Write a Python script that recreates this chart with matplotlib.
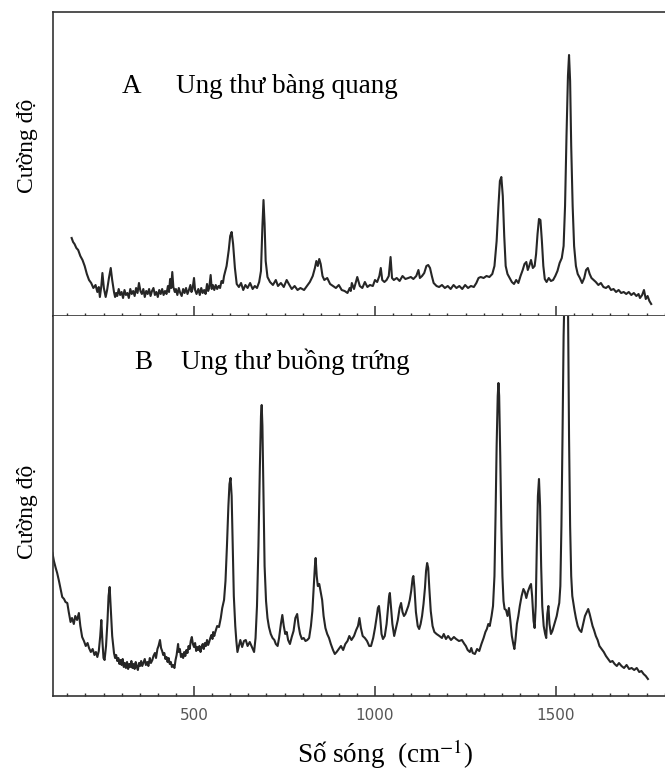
import numpy as np
import matplotlib
matplotlib.use('Agg')
import matplotlib.pyplot as plt
from matplotlib.ticker import MultipleLocator

plt.rcParams['font.family'] = ['Liberation Serif', 'DejaVu Serif']
plt.rcParams['mathtext.fontset'] = 'stix'

# Pho A - ung thu bang quang (so song cm-1, cuong do tuong doi)
wn_a = [162, 166, 170, 175, 180, 186, 192, 198, 204, 210,
        216, 222, 228, 233, 237, 240, 244, 247, 251, 256,
        260, 265, 270, 274, 279, 282, 285, 288, 292, 296,
        300, 304, 308, 312, 316, 320, 324, 328, 332, 336,
        340, 344, 348, 352, 356, 360, 364, 368, 372, 376,
        380, 384, 388, 392, 396, 400, 404, 408, 412, 416,
        420, 424, 428, 431, 434, 437, 440, 443, 447, 450,
        454, 458, 462, 466, 470, 474, 478, 482, 486, 490,
        493, 496, 500, 503, 507, 512, 516, 520, 524, 528,
        532, 536, 539, 542, 546, 549, 552, 556, 560, 564,
        568, 572, 576, 580, 583, 590, 596, 600, 604, 608,
        613, 618, 624, 630, 636, 642, 648, 655, 662, 668,
        674, 680, 685, 689, 692, 695, 698, 703, 710, 718,
        726, 732, 740, 748, 756, 762, 770, 778, 786, 794,
        804, 812, 820, 828, 834, 838, 842, 846, 850, 855,
        860, 868, 876, 884, 892, 900, 908, 916, 924, 930,
        933, 936, 942, 951, 958, 965, 972, 979, 986, 994,
        1000, 1006, 1012, 1016, 1020, 1026, 1032, 1038, 1043, 1047,
        1052, 1060, 1068, 1076, 1084, 1092, 1099, 1106, 1114, 1120,
        1124, 1130, 1136, 1142, 1147, 1152, 1157, 1162, 1170, 1177,
        1185, 1193, 1201, 1209, 1217, 1225, 1233, 1241, 1249, 1257,
        1265, 1273, 1280, 1286, 1292, 1300, 1308, 1316, 1324, 1330,
        1336, 1341, 1345, 1349, 1353, 1357, 1361, 1366, 1372, 1378,
        1384, 1390, 1396, 1402, 1408, 1413, 1418, 1422, 1426, 1431,
        1436, 1441, 1445, 1449, 1453, 1457, 1461, 1465, 1469, 1474,
        1480, 1486, 1492, 1498, 1504, 1510, 1516, 1521, 1525, 1529,
        1533, 1536, 1539, 1542, 1546, 1550, 1555, 1560, 1566, 1572,
        1578, 1583, 1588, 1593, 1598, 1604, 1610, 1617, 1624, 1631,
        1638, 1645, 1652, 1659, 1666, 1673, 1680, 1687, 1694, 1701,
        1708, 1715, 1722, 1728, 1732, 1738, 1743, 1748, 1753, 1758, 1763]
int_a = [78, 74, 72, 68, 66, 60, 56, 50, 42, 36,
         33, 28, 31, 24, 29, 19, 30, 43, 28, 19,
         26, 38, 48, 36, 24, 19, 23, 20, 27, 21,
         24, 18, 26, 21, 23, 18, 27, 22, 25, 20,
         28, 23, 33, 25, 22, 27, 19, 25, 22, 27,
         20, 25, 28, 21, 24, 19, 26, 22, 27, 21,
         25, 22, 30, 24, 37, 28, 44, 29, 24, 27,
         21, 28, 23, 20, 27, 23, 28, 22, 26, 31,
         24, 27, 38, 26, 22, 27, 21, 28, 23, 26,
         22, 32, 25, 28, 41, 27, 31, 26, 31, 27,
         30, 28, 35, 33, 40, 50, 66, 80, 84, 72,
         48, 32, 29, 33, 26, 31, 28, 33, 27, 30,
         28, 34, 45, 90, 116, 92, 55, 39, 34, 31,
         36, 30, 33, 29, 36, 32, 27, 30, 26, 28,
         26, 30, 34, 40, 48, 55, 50, 57, 52, 40,
         36, 38, 32, 30, 28, 31, 26, 25, 23, 28,
         25, 33, 27, 39, 30, 28, 34, 29, 31, 30,
         36, 34, 40, 48, 36, 34, 36, 40, 59, 38,
         36, 38, 35, 40, 37, 38, 39, 37, 40, 46,
         38, 40, 43, 50, 51, 48, 40, 33, 30, 29,
         31, 28, 30, 27, 31, 28, 30, 27, 31, 28,
         30, 29, 33, 38, 39, 38, 40, 39, 42, 50,
         75, 110, 135, 139, 120, 80, 50, 42, 38, 34,
         32, 36, 33, 40, 46, 52, 54, 46, 50, 56,
         48, 50, 62, 82, 97, 96, 75, 50, 37, 34,
         38, 35, 36, 40, 45, 53, 58, 70, 110, 180,
         240, 261, 235, 170, 110, 70, 50, 42, 38, 33,
         38, 46, 48, 42, 38, 36, 34, 31, 33, 29,
         28, 30, 26, 27, 24, 26, 23, 24, 22, 24,
         21, 23, 20, 22, 18, 21, 26, 17, 20, 15, 12]

# Pho B - ung thu buong trung
wn_b = [109, 113, 118, 122, 127, 132, 136, 141, 145, 150,
        154, 159, 163, 168, 172, 177, 182, 186, 191, 196,
        201, 206, 210, 215, 220, 225, 229, 233, 237, 241,
        244, 247, 250, 253, 257, 261, 264, 267, 270, 274,
        279, 282, 285, 288, 291, 294, 297, 300, 303, 306,
        309, 312, 315, 318, 321, 324, 327, 330, 333, 336,
        339, 342, 345, 348, 351, 354, 357, 360, 364, 367,
        371, 374, 378, 381, 385, 388, 392, 395, 399, 402,
        406, 409, 412, 415, 418, 421, 424, 427, 430, 433,
        436, 439, 442, 446, 449, 452, 456, 458, 461, 464,
        467, 470, 473, 476, 479, 482, 485, 488, 491, 494,
        497, 500, 503, 506, 509, 512, 515, 518, 521, 524,
        527, 530, 533, 536, 539, 542, 545, 548, 551, 553,
        556, 558, 564, 569, 574, 578, 583, 587, 591, 595,
        598, 601, 604, 607, 610, 614, 617, 620, 624, 628,
        633, 638, 643, 648, 654, 660, 666, 670, 674, 678,
        682, 685, 687, 689, 692, 695, 699, 703, 707, 712,
        717, 722, 726, 731, 735, 740, 744, 748, 752, 756,
        760, 765, 770, 775, 780, 785, 789, 793, 798, 803,
        808, 813, 818, 823, 827, 831, 834, 836, 839, 842,
        846, 850, 854, 858, 863, 868, 873, 878, 884, 889,
        894, 900, 906, 912, 918, 924, 929, 935, 942, 948,
        953, 957, 961, 966, 972, 978, 984, 989, 995, 1000,
        1005, 1008, 1011, 1014, 1018, 1022, 1027, 1032, 1036, 1039,
        1041, 1044, 1048, 1053, 1058, 1063, 1068, 1072, 1076, 1080,
        1084, 1088, 1092, 1096, 1100, 1104, 1106, 1109, 1113, 1118,
        1122, 1126, 1130, 1134, 1138, 1141, 1144, 1147, 1150, 1154,
        1159, 1164, 1170, 1178, 1185, 1190, 1196, 1202, 1210, 1218,
        1224, 1232, 1240, 1247, 1251, 1256, 1262, 1266, 1270, 1276,
        1282, 1288, 1294, 1300, 1305, 1309, 1313, 1317, 1322, 1326,
        1330, 1333, 1336, 1339, 1341, 1343, 1346, 1349, 1352, 1355,
        1358, 1362, 1366, 1370, 1374, 1378, 1382, 1385, 1388, 1392,
        1396, 1400, 1405, 1410, 1414, 1418, 1422, 1428, 1431, 1434,
        1438, 1441, 1444, 1447, 1450, 1453, 1456, 1459, 1462, 1466,
        1470, 1473, 1476, 1479, 1482, 1486, 1490, 1494, 1498, 1502,
        1506, 1509, 1512, 1515, 1518, 1521, 1525, 1529, 1533, 1536,
        1539, 1542, 1545, 1548, 1551, 1555, 1560, 1565, 1570, 1575,
        1580, 1585, 1589, 1593, 1597, 1601, 1605, 1610, 1615, 1620,
        1626, 1632, 1638, 1644, 1650, 1656, 1662, 1668, 1674, 1681,
        1688, 1695, 1702, 1709, 1716, 1723, 1730, 1736, 1742, 1748, 1754]
int_b = [143, 135, 128, 123, 115, 106, 99, 97, 94, 93,
         84, 74, 78, 72, 80, 76, 83, 70, 59, 55,
         50, 53, 48, 44, 47, 41, 44, 39, 45, 60,
         76, 55, 38, 36, 50, 75, 100, 109, 88, 60,
         43, 38, 41, 35, 38, 32, 36, 31, 37, 29,
         33, 28, 34, 27, 32, 29, 35, 28, 32, 27,
         34, 29, 26, 33, 30, 35, 30, 33, 37, 31,
         34, 30, 38, 33, 36, 40, 43, 38, 47, 50,
         56, 48, 45, 41, 43, 37, 39, 34, 38, 32,
         34, 29, 31, 28, 36, 41, 52, 44, 47, 39,
         42, 38, 44, 40, 46, 43, 50, 47, 55, 59,
         52, 49, 53, 45, 49, 46, 50, 44, 49, 52,
         47, 53, 50, 56, 51, 54, 58, 61, 57, 64,
         60, 63, 70, 69, 78, 88, 96, 115, 150, 190,
         212, 218, 200, 150, 100, 70, 55, 44, 50, 56,
         49, 55, 56, 50, 54, 49, 44, 58, 90, 150,
         230, 280, 291, 270, 200, 130, 95, 78, 69, 62,
         58, 56, 52, 50, 58, 72, 81, 70, 62, 64,
         56, 52, 59, 65, 78, 82, 70, 62, 57, 58,
         55, 56, 58, 70, 85, 110, 130, 138, 120, 110,
         112, 104, 96, 80, 68, 62, 58, 52, 46, 42,
         44, 47, 50, 46, 52, 55, 60, 56, 60, 66,
         70, 78, 68, 60, 58, 55, 50, 50, 58, 68,
         80, 88, 90, 80, 62, 57, 60, 72, 88, 100,
         103, 90, 72, 60, 68, 76, 88, 93, 84, 80,
         82, 86, 90, 96, 105, 118, 120, 108, 84, 70,
         67, 72, 80, 92, 108, 125, 133, 128, 108, 85,
         70, 64, 62, 60, 58, 62, 57, 60, 56, 59,
         57, 55, 56, 52, 50, 46, 44, 48, 43, 42,
         47, 45, 52, 58, 64, 67, 72, 70, 80, 90,
         120, 180, 250, 300, 313, 300, 240, 170, 120, 95,
         87, 86, 80, 88, 75, 60, 52, 47, 56, 72,
         80, 90, 100, 107, 104, 98, 104, 110, 112, 100,
         75, 68, 90, 150, 200, 217, 190, 130, 90, 70,
         62, 58, 82, 90, 72, 62, 65, 70, 75, 80,
         88, 93, 110, 170, 260, 360, 430, 430, 400, 260,
         170, 120, 100, 93, 86, 78, 70, 66, 64, 72,
         80, 84, 87, 82, 76, 70, 66, 60, 56, 50,
         47, 44, 40, 37, 34, 35, 32, 30, 33, 30,
         28, 31, 27, 28, 26, 28, 24, 25, 22, 20, 17]

tick_major = [500, 1000, 1500]
tick_labels = ['500', '1000', '1500']

W, H = 665, 770


def px(x, y):
    return x / W, 1 - y / H


fig = plt.figure(figsize=(6.65, 7.70), dpi=100)
ax1 = fig.add_axes([53 / W, 1 - 316 / H, (W - 53) / W, (316 - 12) / H])
ax2 = fig.add_axes([53 / W, 1 - 696 / H, (W - 53) / W, (696 - 316) / H])

line_col = '#262626'
xmin = 500 - (194 - 53) / 0.362
xmax = 500 + (W - 194) / 0.362

for ax, wn, val, ytop in [(ax1, wn_a, int_a, 304), (ax2, wn_b, int_b, 380)]:
    ax.plot(wn, val, color=line_col, lw=1.5)
    ax.set_xlim(xmin, xmax)
    ax.set_ylim(0, ytop)
    ax.set_yticks([])
    ax.set_xticks(tick_major)
    ax.xaxis.set_minor_locator(MultipleLocator(50))
    ax.tick_params(axis='x', which='major', direction='in', length=7, width=1.1, color='#333333')
    ax.tick_params(axis='x', which='minor', direction='in', length=2.5, width=1.0, color='#333333')
    ax.spines['right'].set_visible(False)
    for s in ['left', 'bottom', 'top']:
        ax.spines[s].set_color('#333333')
        ax.spines[s].set_linewidth(1.2)

ax1.set_xticklabels([])
ax2.spines['top'].set_visible(False)
ax2.set_xticklabels(tick_labels, family='DejaVu Sans', fontsize=11, color='#555555')
ax2.tick_params(axis='x', which='major', pad=9)

# nhan truc va tieu de
fig.text(*px(27, 146), 'Cường độ', rotation=90, ha='center', va='center', fontsize=17)
fig.text(*px(27, 512), 'Cường độ', rotation=90, ha='center', va='center', fontsize=17)
fig.text(*px(122, 93), 'A', ha='left', va='baseline', fontsize=19.5)
fig.text(*px(176, 93), 'Ung thư bàng quang', ha='left', va='baseline', fontsize=19.5)
fig.text(*px(134, 369), 'B', ha='left', va='baseline', fontsize=19.5)
fig.text(*px(181, 369), 'Ung thư buồng trứng', ha='left', va='baseline', fontsize=19.5)
fig.text(*px(385, 763), 'Số sóng  (cm$^{-1}$)', ha='center', va='baseline', fontsize=19.5)

fig.savefig('out.png', dpi=100)
